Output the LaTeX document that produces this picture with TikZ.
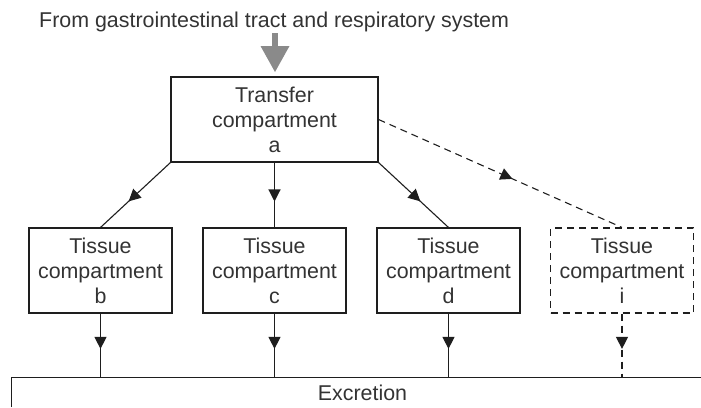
\documentclass[tikz,border=0pt]{standalone}
\usepackage{fontspec}
\setmainfont{Liberation Sans}
\usetikzlibrary{arrows.meta,decorations.markings}
\definecolor{ink}{HTML}{1E1E1E}
\definecolor{txt}{HTML}{333333}
\definecolor{arrowgray}{HTML}{8A8A8A}
\begin{document}
\begin{tikzpicture}[x=1pt,y=-1pt,
  lbl/.style={text=txt, font=\fontsize{21.4}{25}\selectfont},
  box/.style={lbl, draw=ink, line width=1.1pt, minimum width=143pt, minimum height=85pt, inner sep=0pt, align=center},
  dashbox/.style={box, dash pattern=on 7pt off 5pt},
  flow/.style={draw=ink, color=ink, line width=1.1pt, postaction={decorate},
    decoration={markings, mark=at position #1 with {\arrow{Triangle[length=12pt,width=12pt]}}}},
  dflow/.style={flow=#1, dash pattern=on 7pt off 5pt}
]
\useasboundingbox (0,0) rectangle (701,407);

% title text
\node[lbl, anchor=base west, inner sep=0pt] (title) at (39,27) {From gastrointestinal tract and respiratory system};

% boxes
\node[box, minimum width=207pt] (ta) at (274.5,119.5) {Transfer\\compartment\\a};
\node[box] (tb) at (100.5,270.5) {Tissue\\compartment\\b};
\node[box] (tc) at (274.5,270.5) {Tissue\\compartment\\c};
\node[box] (td) at (448.5,270.5) {Tissue\\compartment\\d};
\node[dashbox] (ti) at (622,270.5) {Tissue\\compartment\\i};

% excretion
\node[lbl, minimum width=701pt, minimum height=29pt, inner sep=0pt] (ex) at (362.5,392.5) {Excretion};
\draw[ink, line width=1.1pt] (ex.south west) -- (ex.north west) -- (ex.north east);

% gray input arrow
\coordinate (src) at (275,33);
\coordinate (hb) at (275,46);
\coordinate (tip) at (275,72);
\fill[arrowgray] ([xshift=-3pt]src) rectangle ([xshift=3pt]hb);
\fill[arrowgray] ([xshift=-14.5pt]hb) -- ([xshift=14.5pt]hb) -- (tip) -- cycle;

% connectors
\path[flow=0.6] (ta.south west) -- (tb.north);
\path[flow=0.6] (ta.south) -- (tc.north);
\path[flow=0.6] (ta.south east) -- (td.north);
\path[dflow=0.55] (ta.east) -- (ti.north);

\path[flow=0.55] (tb.south) -- (tb.south |- ex.north);
\path[flow=0.55] (tc.south) -- (tc.south |- ex.north);
\path[flow=0.55] (td.south) -- (td.south |- ex.north);
\path[dflow=0.55] (ti.south) -- (ti.south |- ex.north);
\end{tikzpicture}
\end{document}
